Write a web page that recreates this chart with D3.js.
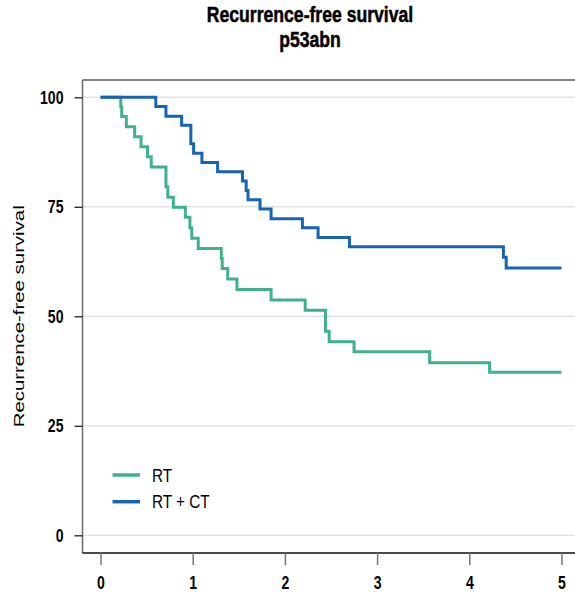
<!DOCTYPE html>
<html>
<head>
<meta charset="utf-8">
<script src="https://cdn.jsdelivr.net/npm/d3@7"></script>
<style>
  body { margin: 0; background: #fff; }
  svg { display: block; }
  text { font-family: "Liberation Sans", Arial, sans-serif; }
</style>
</head>
<body>
<div id="chart"></div>
<script>
// Kaplan-Meier step data (years, % free of recurrence)
const rtTimes = [0, 0.22, 0.23, 0.28, 0.37, 0.44, 0.51, 0.55, 0.71, 0.73, 0.79, 0.92, 0.97, 0.99, 1.06, 1.31, 1.32, 1.38, 1.48, 1.85, 2.22, 2.44, 2.48, 2.75, 3.57, 4.22, 5.0];
const rtValues = [100, 97.8, 95.6, 93.3, 91.0, 88.7, 86.4, 84.1, 79.6, 77.2, 74.9, 72.6, 70.2, 67.8, 65.5, 63.2, 60.9, 58.5, 56.1, 53.7, 51.4, 46.6, 44.2, 41.9, 39.4, 37.2, 37.2];

const rtctTimes = [0, 0.60, 0.71, 0.88, 0.98, 1.01, 1.10, 1.27, 1.54, 1.58, 1.60, 1.73, 1.85, 2.19, 2.36, 2.70, 4.37, 4.40, 5.0];
const rtctValues = [100, 97.9, 95.7, 93.6, 89.4, 87.2, 85.1, 83.0, 80.9, 78.7, 76.6, 74.5, 72.3, 70.2, 68.0, 65.9, 63.5, 61.0, 61.0];

const seriesNames = ["RT", "RT + CT"];
const seriesColors = ["#3fb28b", "#1764b4"];
const xTicks = [0, 1, 2, 3, 4, 5];
const yTicks = [0, 25, 50, 75, 100];

const width = 575, height = 602;
const frame = {left: 82.5, top: 80, bottom: 553, right: 575};

// no narrow font installed, so squeeze glyphs horizontally
function condense(sel, factor) {
    sel.each(function() {
        const w = this.getComputedTextLength();
        d3.select(this)
            .attr("textLength", w * factor)
            .attr("lengthAdjust", "spacingAndGlyphs");
    });
}

const svg = d3.select("#chart").append("svg")
    .attr("width", width)
    .attr("height", height);

const x = d3.scaleLinear().domain([0, 5]).range([100.5, 561.5]);
const y = d3.scaleLinear().domain([0, 100]).range([535.3, 97.3]);

// gridlines
svg.append("g").selectAll("line")
    .data(yTicks)
    .join("line")
    .attr("x1", frame.left).attr("x2", frame.right)
    .attr("y1", d => y(d)).attr("y2", d => y(d))
    .attr("stroke", "#e4e4e4")
    .attr("stroke-width", 1.5);

// frame lines
svg.append("line")
    .attr("x1", frame.left).attr("x2", frame.right)
    .attr("y1", frame.top).attr("y2", frame.top)
    .attr("stroke", "#5a5a5a").attr("stroke-width", 1.5);
svg.append("line")
    .attr("x1", frame.left).attr("x2", frame.left)
    .attr("y1", frame.top).attr("y2", frame.bottom)
    .attr("stroke", "#6a6a6a").attr("stroke-width", 1.5);
svg.append("line")
    .attr("x1", frame.left).attr("x2", frame.right)
    .attr("y1", frame.bottom).attr("y2", frame.bottom)
    .attr("stroke", "#111").attr("stroke-width", 1.5);

// axes
const yAxis = d3.axisLeft(y).tickValues(yTicks).tickSize(8).tickPadding(11);
const yAxisGroup = svg.append("g")
    .attr("class", "axis y-axis")
    .attr("transform", `translate(${frame.left},0)`)
    .call(yAxis);
yAxisGroup.select(".domain").remove();
yAxisGroup.selectAll(".tick line").attr("stroke", "#222").attr("stroke-width", 1.3);
yAxisGroup.selectAll(".tick text")
    .attr("font-family", null)
    .attr("font-size", 18.5).attr("font-weight", "bold").attr("fill", "#000")
    .call(condense, 0.76);

const xAxis = d3.axisBottom(x).tickValues(xTicks).tickSize(12).tickFormat(d3.format("d"));
const xAxisGroup = svg.append("g")
    .attr("class", "axis x-axis")
    .attr("transform", `translate(0,${frame.bottom})`)
    .call(xAxis);
xAxisGroup.select(".domain").remove();
xAxisGroup.selectAll(".tick line").attr("stroke", "#777").attr("stroke-width", 1.5);
xAxisGroup.selectAll(".tick text")
    .attr("y", 35.5).attr("dy", 0)
    .attr("font-family", null)
    .attr("font-size", 18.5).attr("font-weight", "bold").attr("fill", "#000")
    .call(condense, 0.76);

// survival curves
const series = [
    rtTimes.map((t, i) => ({t, v: rtValues[i]})),
    rtctTimes.map((t, i) => ({t, v: rtctValues[i]}))
];

const line = d3.line()
    .x(d => x(d.t))
    .y(d => y(d.v))
    .curve(d3.curveStepAfter);

svg.append("g").selectAll("path")
    .data(series)
    .join("path")
    .attr("d", line)
    .attr("fill", "none")
    .attr("stroke", (d, i) => seriesColors[i])
    .attr("stroke-width", 3);

// legend
const legend = svg.append("g").attr("class", "legend");
const legendItems = legend.selectAll("g")
    .data(seriesNames)
    .join("g")
    .attr("transform", (d, i) => `translate(0,${475 + i * 26.7})`);
legendItems.append("line")
    .attr("x1", 112.5).attr("x2", 140)
    .attr("stroke", (d, i) => seriesColors[i])
    .attr("stroke-width", 3.5);
legendItems.append("text")
    .attr("x", 152)
    .attr("y", 6.5)
    .attr("font-size", 18)
    .attr("fill", "#000")
    .text(d => d)
    .call(condense, 0.85);

// titles
svg.append("text")
    .attr("x", 310).attr("y", 22)
    .attr("text-anchor", "middle")
    .attr("font-size", 22).attr("font-weight", "bold")
    .attr("stroke", "#000").attr("stroke-width", 0.5)
    .text("Recurrence-free survival")
    .call(condense, 0.8);
svg.append("text")
    .attr("x", 310).attr("y", 46.5)
    .attr("text-anchor", "middle")
    .attr("font-size", 22).attr("font-weight", "bold")
    .attr("stroke", "#000").attr("stroke-width", 0.5)
    .text("p53abn")
    .call(condense, 0.8);

svg.append("text")
    .attr("transform", `translate(24,${y(50)}) rotate(-90)`)
    .attr("text-anchor", "middle")
    .attr("font-size", 15)
    .attr("textLength", 222)
    .attr("lengthAdjust", "spacingAndGlyphs")
    .text("Recurrence-free survival");
</script>
</body>
</html>
